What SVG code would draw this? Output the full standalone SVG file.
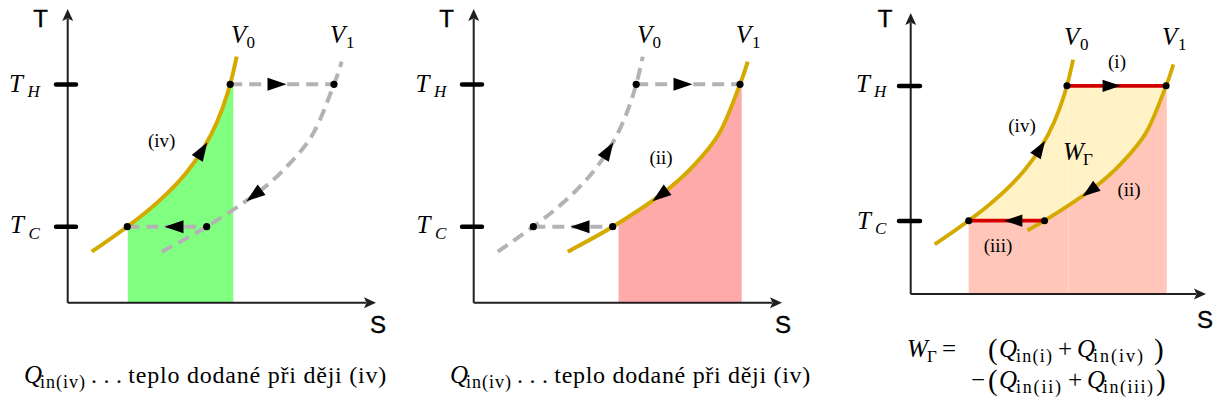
<svg xmlns="http://www.w3.org/2000/svg" xmlns:xlink="http://www.w3.org/1999/xlink" width="1217" height="409" viewBox="0 0 1217 409">
<style>
.ax{stroke:#231f20;stroke-width:2;fill:none}
.axh{fill:#231f20}
.tk{stroke:#000;stroke-width:4.5;stroke-linecap:round;fill:none}
.gold{stroke:#d4aa00;stroke-width:4;fill:none}
.gray{stroke:#b3b3b3;stroke-width:4;fill:none;stroke-dasharray:12 7}
.red{stroke:#d40000;stroke-width:4;fill:none}
.dot{fill:#000}
.ah{fill:#000}
.sans{font-family:"Liberation Sans",Arial,sans-serif;font-size:24px;fill:#000;text-anchor:middle;stroke:#000;stroke-width:0.4}
.mi{font-family:"Liberation Serif","Times New Roman",serif;font-style:italic;font-size:25px;fill:#000}
.rm{font-family:"Liberation Serif","Times New Roman",serif;font-style:normal;font-size:25px;fill:#000}
.cap{font-family:"Liberation Serif","Times New Roman",serif;font-style:normal;font-size:24px;fill:#000}
.lb{font-family:"Liberation Serif","Times New Roman",serif;font-size:19px;fill:#000;text-anchor:middle}
.sb{font-size:17px}
.ss{font-size:18px}
.big{font-size:29px}
</style>
<defs>
<path id="cV0" d="M91.7,251.7 C172,197 216,160 236.7,56.7"/>
<path id="cV1" d="M161.7,251.7 C169.2,247.5 190.9,236.4 206.7,226.7 C222.5,217 243.4,203.3 256.7,193.3 C270,183.3 277.3,176.7 286.7,166.7 C296.1,156.7 305.4,147 313.3,133.3 C321.2,119.6 329.3,96.2 334,84.3 C338.7,72.4 340.4,65.5 341.7,61.7"/>
<path id="cV1b" d="M188.81,237.04 C194.92,233.66 201.17,230.1 206.7,226.7 C222.5,217 243.4,203.3 256.7,193.3 C270,183.3 277.3,176.7 286.7,166.7 C296.1,156.7 305.4,147 313.3,133.3 C321.2,119.6 329.3,96.2 334,84.3 C338.7,72.4 340.4,65.5 341.7,61.7"/>
<path id="ah" d="M9.5,0 L-9.5,-6.5 L-9.5,6.5 Z"/>
<path id="axh" d="M0,0 L-5.5,12 L0,9.5 L5.5,12 Z"/>
<clipPath id="clipG"><rect x="127.8" y="84.3" width="105.5" height="218.4"/></clipPath>
<clipPath id="clipP2"><rect x="212.5" y="84.3" width="123.2" height="218.4"/></clipPath>
<clipPath id="clipY"><rect x="0" y="84.3" width="400" height="142.4"/></clipPath>
</defs>

<g id="panel1">
  <path id="fill1" fill="#80ff80" clip-path="url(#clipG)" d="M91.7,251.7 C172,197 216,160 236.7,56.7 L236.7,302.7 L91.7,302.7 Z"/>
  <g id="axes1">
    <path class="ax" d="M67.7,302.7 V19 M67.7,302.7 H366"/>
    <use xlink:href="#axh" class="axh" transform="translate(67.7,9)"/>
    <use xlink:href="#axh" class="axh" transform="translate(376,302.7) rotate(90)"/>
    <path class="tk" d="M56,84.4 H76 M56,226.7 H76"/>
  </g>
  <g id="connectors1">
    <use xlink:href="#cV1" class="gray"/>
    <path class="gray" d="M230.2,84.3 H334 M127.3,226.7 H206.7"/>
    <use xlink:href="#cV0" class="gold"/>
    <use xlink:href="#ah" class="ah" transform="translate(277,84.3)"/>
    <use xlink:href="#ah" class="ah" transform="translate(174,226.7) rotate(180)"/>
    <use xlink:href="#ah" class="ah" transform="translate(202.3,150.3) rotate(-58)"/>
    <use xlink:href="#ah" class="ah" transform="translate(254,195.5) rotate(143)"/>
  </g>
  <g id="points1">
    <circle class="dot" cx="230.2" cy="84.3" r="3.6"/>
    <circle class="dot" cx="334" cy="84.3" r="3.6"/>
    <circle class="dot" cx="127.3" cy="226.7" r="3.6"/>
    <circle class="dot" cx="206.7" cy="226.7" r="3.6"/>
  </g>
  <g id="labels1">
    <text class="sans" x="40.5" y="27" font-size="24">T</text>
    <text class="sans" x="378" y="333" font-size="24">S</text>
    <text class="mi" x="9" y="92">T<tspan class="sb" x="27.5" y="97">H</tspan></text>
    <text class="mi" x="10" y="233">T<tspan class="sb" x="28.5" y="238.5">C</tspan></text>
    <text class="mi" x="231" y="43">V<tspan class="rm sb" x="246.5" y="47.5">0</tspan></text>
    <text class="mi" x="330" y="43">V<tspan class="rm sb" x="346" y="47.5">1</tspan></text>
    <text class="lb" x="161.7" y="147">(iv)</text>
  </g>
  <g id="caption1">
    <text class="mi" x="24" y="383">Q</text>
    <text class="rm ss" x="40" y="388" textLength="45" lengthAdjust="spacing">in(iv)</text>
    <text class="cap" x="91" y="383" textLength="31" lengthAdjust="spacing">. . .</text>
    <text class="cap" x="128.3" y="383" textLength="258" lengthAdjust="spacing">teplo dodané při ději (iv)</text>
  </g>
</g>

<g id="panel2">
  <g transform="translate(406,0)">
    <path id="fill2" fill="#ffaaaa" clip-path="url(#clipP2)" d="M161.7,251.7 C169.2,247.5 190.9,236.4 206.7,226.7 C222.5,217 243.4,203.3 256.7,193.3 C270,183.3 277.3,176.7 286.7,166.7 C296.1,156.7 305.4,147 313.3,133.3 C321.2,119.6 329.3,96.2 334,84.3 C338.7,72.4 340.4,65.5 341.7,61.7 L341.7,302.7 L161.7,302.7 Z"/>
    <g id="axes2">
      <path class="ax" d="M67.7,302.7 V19 M67.7,302.7 H366"/>
      <use xlink:href="#axh" class="axh" transform="translate(67.7,9)"/>
      <use xlink:href="#axh" class="axh" transform="translate(376,302.7) rotate(90)"/>
      <path class="tk" d="M56,84.4 H76 M56,226.7 H76"/>
    </g>
    <g id="connectors2">
      <use xlink:href="#cV0" class="gray"/>
      <path class="gray" d="M230.2,84.3 H334 M127.3,226.7 H206.7"/>
      <use xlink:href="#cV1" class="gold"/>
      <use xlink:href="#ah" class="ah" transform="translate(277,84.3)"/>
      <use xlink:href="#ah" class="ah" transform="translate(174,226.7) rotate(180)"/>
      <use xlink:href="#ah" class="ah" transform="translate(202.3,150.3) rotate(-58)"/>
      <use xlink:href="#ah" class="ah" transform="translate(254,195.5) rotate(143)"/>
    </g>
    <g id="points2">
      <circle class="dot" cx="230.2" cy="84.3" r="3.6"/>
      <circle class="dot" cx="334" cy="84.3" r="3.6"/>
      <circle class="dot" cx="127.3" cy="226.7" r="3.6"/>
      <circle class="dot" cx="206.7" cy="226.7" r="3.6"/>
    </g>
  </g>
  <g id="labels2">
    <text class="sans" x="446.5" y="27" font-size="24">T</text>
    <text class="sans" x="783" y="333" font-size="24">S</text>
    <text class="mi" x="415.5" y="92">T<tspan class="sb" x="434" y="97">H</tspan></text>
    <text class="mi" x="416.5" y="233">T<tspan class="sb" x="435" y="238.5">C</tspan></text>
    <text class="mi" x="637" y="43">V<tspan class="rm sb" x="652.5" y="47.5">0</tspan></text>
    <text class="mi" x="736" y="43">V<tspan class="rm sb" x="752" y="47.5">1</tspan></text>
    <text class="lb" x="661" y="164">(ii)</text>
  </g>
  <g id="caption2">
    <text class="mi" x="450" y="383">Q</text>
    <text class="rm ss" x="466" y="388" textLength="45" lengthAdjust="spacing">in(iv)</text>
    <text class="cap" x="517" y="383" textLength="31" lengthAdjust="spacing">. . .</text>
    <text class="cap" x="554.3" y="383" textLength="256" lengthAdjust="spacing">teplo dodané při ději (iv)</text>
  </g>
</g>

<g id="panel3">
  <g transform="matrix(0.955,0,0,0.947,847.1,6)">
    <path id="fill3a" fill="#ffc6b9" d="M127.3,304 L127.3,226.7 L206.7,226.7 C222.5,217 243.4,203.3 256.7,193.3 C270,183.3 277.3,176.7 286.7,166.7 C296.1,156.7 305.4,147 313.3,133.3 C321.2,119.6 329.3,96.2 334,84.3 L334.7,84.3 L334.7,304 Z"/>
    <path id="fill3b" fill="#fff2c6" clip-path="url(#clipY)" d="M91.7,251.7 C172,197 216,160 236.7,56.7 L341.7,61.7 C340.4,65.5 338.7,72.4 334,84.3 C329.3,96.2 321.2,119.6 313.3,133.3 C305.4,147 296.1,156.7 286.7,166.7 C277.3,176.7 270,183.3 256.7,193.3 C243.4,203.3 222.5,217 206.7,226.7 C190.9,236.4 169.2,247.5 161.7,251.7 Z"/>
  </g>
  <line x1="1068.5" y1="87" x2="1068.5" y2="293" stroke="#ffffff" stroke-opacity="0.3" stroke-width="1"/>
  <g id="axes3">
    <path class="ax" d="M910.7,294 V23 M910.7,294 H1196"/>
    <use xlink:href="#axh" class="axh" transform="translate(910.7,13)"/>
    <use xlink:href="#axh" class="axh" transform="translate(1206,294) rotate(90)"/>
    <path class="tk" d="M899,86 H920 M899,221 H920"/>
  </g>
  <g id="connectors3" transform="matrix(0.955,0,0,0.947,847.1,6)">
    <use xlink:href="#cV0" class="gold"/>
    <use xlink:href="#cV1b" class="gold"/>
    <path class="red" d="M230.2,84.3 H334 M127.3,226.7 H206.7"/>
    <use xlink:href="#ah" class="ah" transform="translate(277,84.3)"/>
    <use xlink:href="#ah" class="ah" transform="translate(174,226.7) rotate(180)"/>
    <use xlink:href="#ah" class="ah" transform="translate(202.3,150.3) rotate(-58)"/>
    <use xlink:href="#ah" class="ah" transform="translate(254,195.5) rotate(143)"/>
    <circle class="dot" cx="230.2" cy="84.3" r="3.7"/>
    <circle class="dot" cx="334" cy="84.3" r="3.7"/>
    <circle class="dot" cx="127.3" cy="226.7" r="3.7"/>
    <circle class="dot" cx="206.7" cy="226.7" r="3.7"/>
  </g>
  <g id="labels3">
    <text class="sans" x="885" y="27" font-size="24">T</text>
    <text class="sans" x="1205" y="328" font-size="24">S</text>
    <text class="mi" x="856" y="92">T<tspan class="sb" x="874" y="97">H</tspan></text>
    <text class="mi" x="857" y="228.5">T<tspan class="sb" x="875" y="233.5">C</tspan></text>
    <text class="mi" x="1064" y="45">V<tspan class="rm sb" x="1080" y="49.5">0</tspan></text>
    <text class="mi" x="1162" y="45">V<tspan class="rm sb" x="1178" y="49.5">1</tspan></text>
    <text class="lb" x="1117" y="68">(i)</text>
    <text class="lb" x="1022" y="132">(iv)</text>
    <text class="mi" x="1063" y="160">W<tspan class="rm sb" x="1083" y="164.5">Γ</tspan></text>
    <text class="lb" x="1129" y="196">(ii)</text>
    <text class="lb" x="998" y="252">(iii)</text>
  </g>
  <g id="formula3">
    <text class="mi" x="907" y="357">W</text>
    <text class="rm sb" x="927" y="361.5">Γ</text>
    <text class="rm" x="942" y="357">=</text>
    <text class="rm big" x="988" y="359">(</text>
    <text class="mi" x="999" y="357">Q</text>
    <text class="rm ss" x="1016" y="361.5" textLength="36" lengthAdjust="spacing">in(i)</text>
    <text class="rm" x="1058" y="357">+</text>
    <text class="mi" x="1077" y="357">Q</text>
    <text class="rm ss" x="1093" y="361.5" textLength="50" lengthAdjust="spacing">in(iv)</text>
    <text class="rm big" x="1154" y="359">)</text>
    <text class="rm" x="971" y="388">−</text>
    <text class="rm big" x="988" y="390">(</text>
    <text class="mi" x="999" y="388">Q</text>
    <text class="rm ss" x="1016" y="392.5" textLength="45" lengthAdjust="spacing">in(ii)</text>
    <text class="rm" x="1068" y="388">+</text>
    <text class="mi" x="1087" y="388">Q</text>
    <text class="rm ss" x="1103" y="392.5" textLength="50" lengthAdjust="spacing">in(iii)</text>
    <text class="rm big" x="1156" y="390">)</text>
  </g>
</g>
</svg>
